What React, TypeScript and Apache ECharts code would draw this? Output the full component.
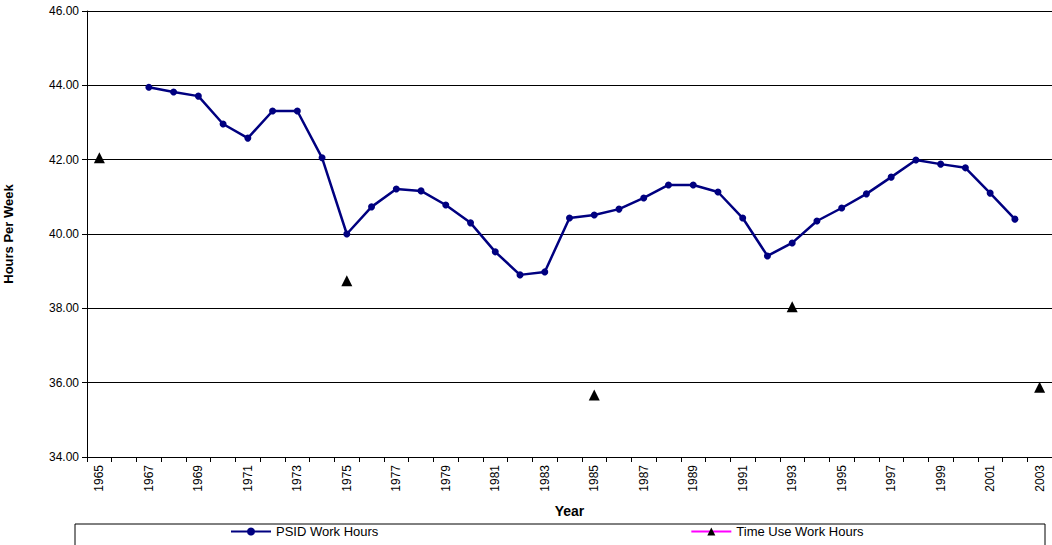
import { useEffect, useRef } from "react"
import * as echarts from "echarts"

const years = Array.from({ length: 39 }, (_, i) => String(1965 + i))

// PSID, 1967..2002
const psidValues = [
  43.95, 43.82, 43.71, 42.96, 42.58, 43.31, 43.31, 42.05, 40.0, 40.73,
  41.21, 41.16, 40.78, 40.30, 39.52, 38.90, 38.98, 40.43, 40.51, 40.67,
  40.97, 41.32, 41.32, 41.13, 40.43, 39.41, 39.76, 40.35, 40.70, 41.08,
  41.53, 41.99, 41.88, 41.78, 41.10, 40.40,
]
const timeUseYears = ["1965", "1975", "1985", "1993", "2003"]
const timeUseValues = [42.05, 38.74, 35.67, 38.04, 35.88]

export default function App() {
  const ref = useRef<HTMLDivElement>(null)

  useEffect(() => {
    if (!ref.current) return
    document.body.style.margin = "0"
    const chart = echarts.init(ref.current, null, { renderer: "svg" })

    const psid = years.map(y => {
      const i = Number(y) - 1967
      return i >= 0 && i < psidValues.length ? psidValues[i] : null
    })
    const timeUse = years.map(y => {
      const i = timeUseYears.indexOf(y)
      return i >= 0 ? timeUseValues[i] : null
    })

    const font = "Arial, 'Liberation Sans', sans-serif"

    chart.setOption({
      animation: false,
      textStyle: { fontFamily: font },
      grid: { left: 87, right: 0, top: 11, bottom: 88, outerBoundsMode: "none" },
      graphic: [
        {
          type: "rect",
          shape: { x: 75, y: 524, width: 970, height: 30 },
          style: { fill: "none", stroke: "#000", lineWidth: 1 },
        },
      ],
      legend: {
        bottom: 2,
        left: 225,
        itemGap: 312,
        itemWidth: 40,
        itemHeight: 10,
        textStyle: { fontSize: 13, color: "#000", fontFamily: font },
        data: ["PSID Work Hours", "Time Use Work Hours"],
      },
      xAxis: {
        type: "category",
        data: years,
        boundaryGap: true,
        name: "Year",
        nameLocation: "middle",
        nameGap: 47,
        nameTextStyle: { fontWeight: "bold", fontSize: 14, color: "#000" },
        axisLine: { lineStyle: { color: "#000" } },
        axisTick: { show: true, interval: 0, lineStyle: { color: "#000" } },
        axisLabel: { interval: 1, rotate: 90, fontSize: 12, color: "#000" },
      },
      yAxis: {
        type: "value",
        min: 34,
        max: 46,
        interval: 2,
        name: "Hours Per Week",
        nameLocation: "middle",
        nameGap: 72,
        nameTextStyle: { fontWeight: "bold", fontSize: 13, color: "#000" },
        axisLine: { show: true, lineStyle: { color: "#000" } },
        axisTick: { show: true, lineStyle: { color: "#000" } },
        axisLabel: { formatter: (v: number) => v.toFixed(2), fontSize: 12, color: "#000" },
        splitLine: { lineStyle: { color: "#000", width: 1 } },
      },
      series: [
        {
          name: "PSID Work Hours",
          type: "line",
          data: psid,
          symbol: "circle",
          symbolSize: 7,
          lineStyle: { color: "#000080", width: 2.5 },
          itemStyle: { color: "#000080" },
        },
        {
          name: "Time Use Work Hours",
          type: "line",
          data: timeUse,
          connectNulls: false,
          symbol: "triangle",
          symbolSize: 11,
          lineStyle: { color: "#FF00FF", width: 2 },
          itemStyle: { color: "#000" },
        },
      ],
    })

    return () => chart.dispose()
  }, [])

  return <div ref={ref} style={{ width: 1052, height: 545 }} />
}
